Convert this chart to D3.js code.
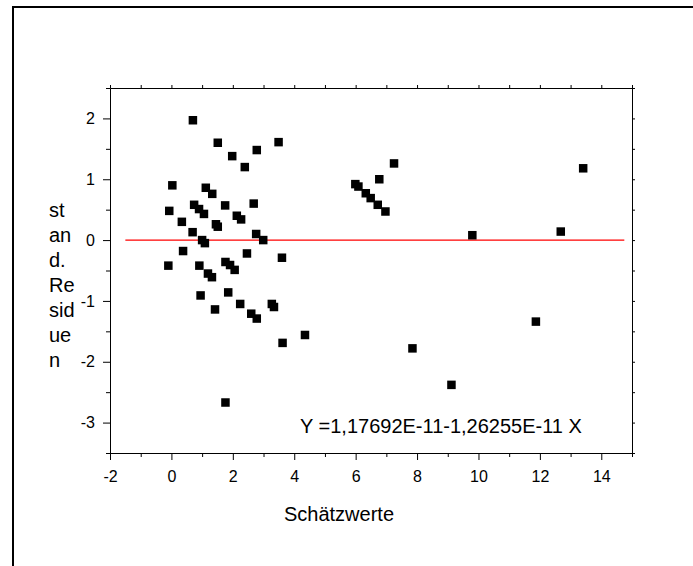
<!DOCTYPE html>
<html>
<head>
<meta charset="utf-8">
<script src="https://cdn.jsdelivr.net/npm/d3@7"></script>
<style>
  body { margin: 0; background: #fff; }
  svg { display: block; font-family: "Liberation Sans", Arial, sans-serif; }
</style>
</head>
<body>
<svg width="693" height="566"></svg>
<script>
// geschaetzte Werte (x) und standardisierte Residuen (y)
var fitted = [0.70, 1.51, 1.98, 2.39, 2.78, 3.49,
  0.03, 1.12, 1.33, -0.07, 0.74, 0.90, 1.06, 1.75, 2.13, 2.27, 2.68, 0.34, 1.45, 1.51, 0.69, 2.76, 2.99, 1.00, 1.09,
  0.38, 2.46, 3.60, -0.10, 0.91, 1.76, 1.91, 2.06, 1.19, 1.32, 0.95, 1.85, 1.42, 2.24, 3.27, 3.34, 2.60, 2.78, 3.62, 4.35, 1.76,
  7.25, 6.77, 5.99, 6.09, 6.33, 6.49, 6.72, 6.97, 9.80, 12.68, 13.41,
  7.85, 9.12, 11.87]
var residuals = [1.97, 1.60, 1.38, 1.20, 1.48, 1.61,
  0.90, 0.86, 0.76, 0.48, 0.58, 0.51, 0.43, 0.57, 0.40, 0.34, 0.60, 0.30, 0.26, 0.22, 0.13, 0.10, 0.00, 0.00, -0.05,
  -0.18, -0.22, -0.29, -0.42, -0.42, -0.36, -0.41, -0.49, -0.55, -0.61, -0.91, -0.86, -1.14, -1.05, -1.05, -1.10, -1.21, -1.29, -1.69, -1.56, -2.67,
  1.26, 1.00, 0.92, 0.88, 0.77, 0.69, 0.58, 0.47, 0.08, 0.14, 1.18,
  -1.78, -2.38, -1.34]

var xTicks = [-2, 0, 2, 4, 6, 8, 10, 12, 14]
var xMinor = [-1, 1, 3, 5, 7, 9, 11, 13, 15]
var yTicks = [-3, -2, -1, 0, 1, 2]
var yMinor = [-3.5, -2.5, -1.5, -0.5, 0.5, 1.5, 2.5]
var fitLineX = [-1.5, 14.75]   // Regressionsgerade y = 0
var yLabelLines = ["st", "an", "d.", "Re", "sid", "ue", "n"]
var equation = "Y =1,17692E-11-1,26255E-11 X"
var xTitle = "Schätzwerte"

var svg = d3.select("svg")
var x = d3.scaleLinear().domain([-2, 15]).range([110, 632])
var y = d3.scaleLinear().domain([-3.5, 2.5]).range([453, 88])

// Rahmen
svg.append("rect").attr("x", 13).attr("y", 7).attr("width", 720).attr("height", 620)
  .attr("fill", "none").attr("stroke", "#000").attr("stroke-width", 2)

function style(g) {
  g.selectAll("path, line").attr("stroke", "#000")
  g.selectAll("text").attr("fill", "#000").attr("font-size", 16).attr("font-family", "Liberation Sans, Arial, sans-serif")
}
var fmt = function (d) { return String(d) }

svg.append("g").attr("transform", "translate(0,453)")
  .call(d3.axisBottom(x).tickValues(xTicks).tickFormat(fmt).tickSize(7).tickSizeOuter(0).tickPadding(11))
  .call(style)
svg.append("g").attr("transform", "translate(0,453)")
  .call(d3.axisBottom(x).tickValues(xMinor).tickFormat("").tickSize(4).tickSizeOuter(0))
  .call(style)
svg.append("g").attr("transform", "translate(110,0)")
  .call(d3.axisLeft(y).tickValues(yTicks).tickFormat(fmt).tickSize(7).tickSizeOuter(0).tickPadding(8))
  .call(style)
svg.append("g").attr("transform", "translate(110,0)")
  .call(d3.axisLeft(y).tickValues(yMinor).tickFormat("").tickSize(4).tickSizeOuter(0))
  .call(style)
svg.append("g").attr("transform", "translate(0,88)")
  .call(d3.axisTop(x).tickValues(xTicks.concat(xMinor)).tickFormat("").tickSize(3).tickSizeOuter(0))
  .call(style)
svg.append("g").attr("transform", "translate(632,0)")
  .call(d3.axisRight(y).tickValues(yTicks.concat(yMinor)).tickFormat("").tickSize(3).tickSizeOuter(0))
  .call(style)

// Nulllinie
svg.append("line")
  .attr("x1", x(fitLineX[0])).attr("x2", x(fitLineX[1]))
  .attr("y1", y(0)).attr("y2", y(0))
  .attr("stroke", "#ff0000").attr("stroke-width", 1.2)

// Punkte
var s = 8.5
svg.append("g").selectAll("rect")
  .data(fitted)
  .enter().append("rect")
  .attr("x", function (d) { return x(d) - s / 2 })
  .attr("y", function (d, i) { return y(residuals[i]) - s / 2 })
  .attr("width", s).attr("height", s)
  .attr("fill", "#000")

svg.append("text").attr("x", 300).attr("y", 433)
  .attr("font-size", 20).text(equation)

svg.append("text").attr("x", 339).attr("y", 521)
  .attr("text-anchor", "middle").attr("font-size", 20).text(xTitle)

svg.append("g").selectAll("text")
  .data(yLabelLines)
  .enter().append("text")
  .attr("x", 49)
  .attr("y", function (d, i) { return 217 + i * 25 })
  .attr("font-size", 20)
  .text(function (d) { return d })
</script>
</body>
</html>
